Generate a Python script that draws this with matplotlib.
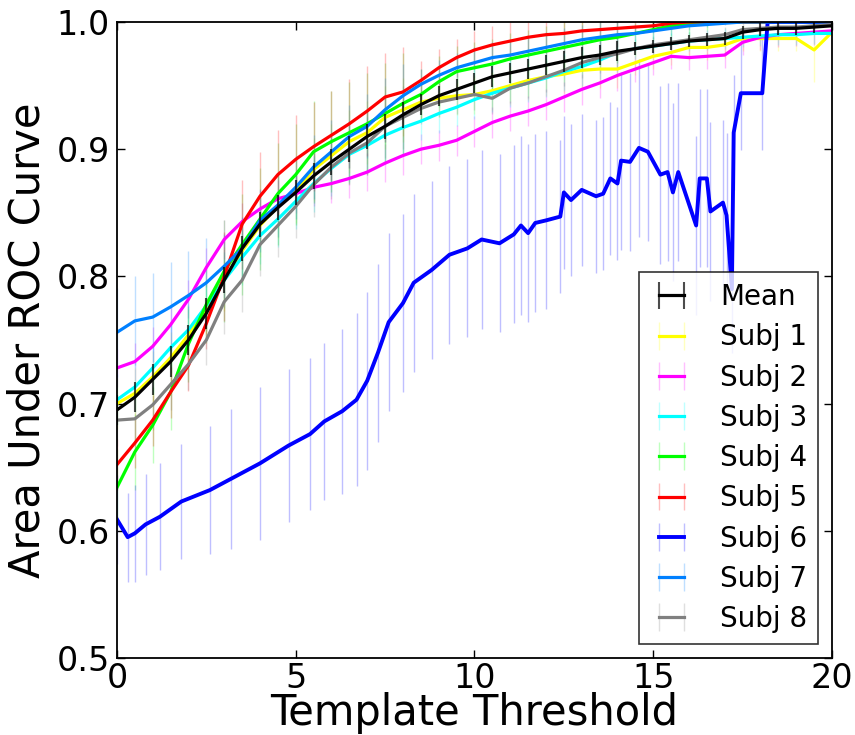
import matplotlib
matplotlib.use("Agg")
import matplotlib.pyplot as plt
from matplotlib.colors import to_rgba
import numpy as np

# threshold grid used for the mean and most subjects
thresh = np.linspace(0, 20, 41)

mean_auc = [0.695, 0.705, 0.719, 0.733, 0.750, 0.771, 0.797, 0.822, 0.841, 0.854,
            0.866, 0.879, 0.890, 0.900, 0.910, 0.918, 0.927, 0.935, 0.942, 0.947,
            0.952, 0.957, 0.960, 0.963, 0.966, 0.969, 0.972, 0.974, 0.977, 0.979,
            0.981, 0.983, 0.985, 0.986, 0.987, 0.992, 0.994, 0.995, 0.995, 0.996, 0.997]
mean_err = [0.012, 0.012, 0.012, 0.012, 0.012, 0.012, 0.010, 0.010, 0.010, 0.010,
            0.010, 0.010, 0.010, 0.010, 0.010, 0.010, 0.010, 0.008, 0.008, 0.008,
            0.008, 0.008, 0.008, 0.008, 0.008, 0.008, 0.008, 0.008, 0.008, 0.005,
            0.005, 0.005, 0.005, 0.005, 0.005, 0.005, 0.005, 0.005, 0.005, 0.005, 0.005]

subj1 = [0.700, 0.708, 0.721, 0.736, 0.754, 0.775, 0.798, 0.820, 0.840, 0.855,
         0.867, 0.884, 0.895, 0.906, 0.913, 0.925, 0.931, 0.937, 0.940, 0.942,
         0.943, 0.946, 0.950, 0.954, 0.957, 0.959, 0.962, 0.963, 0.963, 0.968,
         0.973, 0.976, 0.980, 0.980, 0.982, 0.987, 0.987, 0.987, 0.987, 0.978, 0.992]
subj1_err = [0.020, 0.020, 0.020, 0.020, 0.020, 0.020, 0.025, 0.025, 0.025, 0.025,
             0.025, 0.025, 0.025, 0.025, 0.025, 0.025, 0.025, 0.015, 0.015, 0.015,
             0.015, 0.015, 0.015, 0.015, 0.015, 0.015, 0.015, 0.015, 0.015, 0.010,
             0.010, 0.010, 0.010, 0.010, 0.010, 0.010, 0.010, 0.010, 0.010, 0.025, 0.010]

subj2 = [0.728, 0.733, 0.745, 0.762, 0.782, 0.807, 0.829, 0.843, 0.853, 0.861,
         0.865, 0.870, 0.873, 0.877, 0.882, 0.889, 0.895, 0.900, 0.903, 0.907,
         0.914, 0.921, 0.926, 0.930, 0.935, 0.941, 0.947, 0.952, 0.958, 0.963,
         0.968, 0.973, 0.972, 0.973, 0.974, 0.984, 0.988, 0.990, 0.991, 0.992, 0.993]
subj2_err = [0.015, 0.015, 0.015, 0.015, 0.015, 0.015, 0.015, 0.015, 0.015, 0.015,
             0.015, 0.015, 0.015, 0.015, 0.015, 0.015, 0.015, 0.012, 0.012, 0.012,
             0.012, 0.012, 0.012, 0.012, 0.012, 0.012, 0.012, 0.012, 0.012, 0.010,
             0.010, 0.010, 0.010, 0.010, 0.010, 0.010, 0.010, 0.010, 0.010, 0.010, 0.010]

subj3 = [0.703, 0.713, 0.728, 0.744, 0.758, 0.777, 0.797, 0.815, 0.832, 0.845,
         0.859, 0.873, 0.885, 0.896, 0.903, 0.911, 0.917, 0.922, 0.928, 0.933,
         0.939, 0.944, 0.948, 0.952, 0.956, 0.961, 0.965, 0.970, 0.976, 0.979,
         0.981, 0.983, 0.985, 0.986, 0.987, 0.988, 0.989, 0.990, 0.990, 0.991, 0.991]
subj3_err = [0.020, 0.020, 0.020, 0.020, 0.020, 0.020, 0.022, 0.022, 0.022, 0.022,
             0.022, 0.022, 0.022, 0.022, 0.022, 0.022, 0.022, 0.015, 0.015, 0.015,
             0.015, 0.015, 0.015, 0.015, 0.015, 0.015, 0.015, 0.015, 0.015, 0.008,
             0.008, 0.008, 0.008, 0.008, 0.008, 0.008, 0.008, 0.008, 0.008, 0.008, 0.008]

subj4 = [0.634, 0.662, 0.683, 0.709, 0.747, 0.778, 0.804, 0.825, 0.845, 0.865,
         0.880, 0.898, 0.906, 0.913, 0.920, 0.928, 0.936, 0.943, 0.953, 0.961,
         0.964, 0.967, 0.971, 0.974, 0.977, 0.980, 0.983, 0.986, 0.988, 0.991,
         0.994, 0.997, 0.998, 0.999, 1.000, 1.000, 1.000, 1.000, 1.000, 1.000, 1.000]
subj4_err = [0.030, 0.030, 0.030, 0.030, 0.030, 0.030, 0.040, 0.040, 0.040, 0.040,
             0.040, 0.040, 0.040, 0.040, 0.040, 0.040, 0.040, 0.020, 0.020, 0.020,
             0.020, 0.020, 0.020, 0.020, 0.020, 0.020, 0.020, 0.020, 0.020, 0.008,
             0.008, 0.008, 0.008, 0.005, 0.000, 0.000, 0.000, 0.000, 0.000, 0.000, 0.000]

subj5 = [0.652, 0.669, 0.687, 0.709, 0.730, 0.763, 0.800, 0.841, 0.863, 0.880,
         0.892, 0.902, 0.911, 0.920, 0.930, 0.941, 0.945, 0.954, 0.964, 0.972,
         0.978, 0.982, 0.985, 0.988, 0.990, 0.991, 0.993, 0.994, 0.995, 0.996,
         0.997, 0.999, 1.000, 1.000, 1.000, 1.000, 1.000, 1.000, 1.000, 1.000, 1.000]
subj5_err = [0.020, 0.020, 0.020, 0.020, 0.020, 0.020, 0.035, 0.035, 0.035, 0.035,
             0.035, 0.035, 0.035, 0.035, 0.035, 0.035, 0.035, 0.015, 0.015, 0.015,
             0.015, 0.015, 0.015, 0.015, 0.015, 0.015, 0.015, 0.015, 0.015, 0.005,
             0.005, 0.003, 0.000, 0.000, 0.000, 0.000, 0.000, 0.000, 0.000, 0.000, 0.000]

# subject 6 is jagged, so it has its own threshold points
subj6_x = [0.0, 0.3, 0.5, 0.8, 1.2, 1.8, 2.6, 3.2, 4.0, 4.8,
           5.4, 5.8, 6.3, 6.7, 7.0, 7.3, 7.6, 8.0, 8.3, 8.8,
           9.3, 9.8, 10.2, 10.7, 11.1, 11.3, 11.5, 11.7, 12.0, 12.4,
           12.5, 12.7, 13.0, 13.4, 13.6, 13.8, 14.0, 14.1, 14.35, 14.6,
           14.85, 15.2, 15.4, 15.55, 15.7, 16.2, 16.3, 16.5, 16.6, 16.95,
           17.05, 17.2, 17.25, 17.45, 18.05, 18.2, 19.0, 20.0]
subj6 = [0.609, 0.595, 0.598, 0.605, 0.611, 0.623, 0.632, 0.641, 0.653, 0.667,
         0.676, 0.686, 0.694, 0.703, 0.718, 0.740, 0.764, 0.779, 0.795, 0.805,
         0.817, 0.822, 0.829, 0.826, 0.833, 0.840, 0.834, 0.842, 0.844, 0.847,
         0.866, 0.860, 0.868, 0.863, 0.865, 0.877, 0.873, 0.891, 0.890, 0.901,
         0.898, 0.880, 0.882, 0.866, 0.882, 0.840, 0.877, 0.877, 0.851, 0.858,
         0.848, 0.790, 0.913, 0.944, 0.944, 1.000, 1.000, 1.000]
subj6_err = [0.035, 0.035, 0.038, 0.040, 0.042, 0.045, 0.050, 0.055, 0.060, 0.060,
             0.060, 0.062, 0.065, 0.068, 0.070, 0.070, 0.070, 0.070, 0.070, 0.070,
             0.070, 0.070, 0.070, 0.070, 0.070, 0.070, 0.070, 0.070, 0.070, 0.060,
             0.060, 0.060, 0.060, 0.060, 0.060, 0.060, 0.060, 0.070, 0.070, 0.070,
             0.070, 0.070, 0.070, 0.070, 0.070, 0.070, 0.070, 0.070, 0.070, 0.065,
             0.065, 0.050, 0.045, 0.045, 0.045, 0.000, 0.000, 0.000]

subj7 = [0.756, 0.765, 0.768, 0.776, 0.785, 0.795, 0.808, 0.822, 0.844, 0.856,
         0.870, 0.886, 0.898, 0.910, 0.918, 0.931, 0.942, 0.951, 0.958, 0.964,
         0.968, 0.972, 0.974, 0.977, 0.980, 0.983, 0.986, 0.988, 0.990, 0.991,
         0.993, 0.995, 0.997, 0.998, 0.999, 1.000, 1.000, 1.000, 1.000, 1.000, 1.000]
subj7_err = [0.035, 0.035, 0.035, 0.035, 0.035, 0.035, 0.025, 0.025, 0.025, 0.025,
             0.025, 0.025, 0.025, 0.025, 0.025, 0.025, 0.025, 0.012, 0.012, 0.012,
             0.012, 0.012, 0.012, 0.012, 0.012, 0.012, 0.012, 0.012, 0.012, 0.006,
             0.006, 0.005, 0.003, 0.002, 0.001, 0.000, 0.000, 0.000, 0.000, 0.000, 0.000]

subj8 = [0.687, 0.688, 0.699, 0.715, 0.731, 0.750, 0.780, 0.797, 0.825, 0.840,
         0.855, 0.872, 0.886, 0.897, 0.905, 0.918, 0.925, 0.932, 0.937, 0.940,
         0.943, 0.940, 0.948, 0.952, 0.957, 0.962, 0.968, 0.972, 0.975, 0.979,
         0.982, 0.984, 0.986, 0.988, 0.990, 0.994, 0.995, 0.996, 0.996, 0.997, 0.998]
subj8_err = [0.020, 0.020, 0.020, 0.020, 0.020, 0.020, 0.025, 0.025, 0.025, 0.025,
             0.025, 0.025, 0.025, 0.025, 0.025, 0.025, 0.025, 0.012, 0.012, 0.012,
             0.012, 0.012, 0.012, 0.012, 0.012, 0.012, 0.012, 0.012, 0.012, 0.006,
             0.006, 0.006, 0.006, 0.006, 0.006, 0.006, 0.006, 0.006, 0.006, 0.006, 0.006]

subjects = [
    ("Subj 1", thresh, subj1, subj1_err, "#ffff00"),
    ("Subj 2", thresh, subj2, subj2_err, "#ff00ff"),
    ("Subj 3", thresh, subj3, subj3_err, "#00ffff"),
    ("Subj 4", thresh, subj4, subj4_err, "#00ff00"),
    ("Subj 5", thresh, subj5, subj5_err, "#ff0000"),
    ("Subj 6", subj6_x, subj6, subj6_err, "#0000ff"),
    ("Subj 7", thresh, subj7, subj7_err, "#0080ff"),
    ("Subj 8", thresh, subj8, subj8_err, "#808080"),
]

plt.rcParams.update({'font.family': 'DejaVu Sans'})
fig = plt.figure(figsize=(8.55, 7.35), dpi=100)
ax = fig.add_axes([0.1368, 0.1048, 0.8363, 0.8653])

handles = {}
for name, xs, ys, errs, col in subjects:
    lw = 2.8 if name == "Subj 6" else 2.3
    h = ax.errorbar(xs, ys, yerr=errs, color=col, linewidth=lw,
                    ecolor=to_rgba(col, 0.25), elinewidth=1.0, capsize=0,
                    label=name, zorder=2)
    handles[name] = h

hm = ax.errorbar(thresh, mean_auc, yerr=mean_err, color='black', linewidth=2.3,
                 ecolor=to_rgba('black', 0.7), elinewidth=1.5, capsize=0,
                 label='Mean', zorder=3)

order = [hm] + [handles[s[0]] for s in subjects]
leg = ax.legend(handles=order, labels=[h.get_label() for h in order],
                loc='lower right', numpoints=2, fontsize=20, fancybox=False,
                handlelength=1.5, handletextpad=1.0, labelspacing=0.44,
                borderaxespad=0.5)
leg.get_frame().set_edgecolor('black')
leg.get_frame().set_linewidth(1.2)

ax.set_xlim(0, 20)
ax.set_ylim(0.5, 1.0)
ax.set_xticks([0, 5, 10, 15, 20])
ax.set_yticks([0.5, 0.6, 0.7, 0.8, 0.9, 1.0])
ax.tick_params(axis='both', direction='in', length=6, width=1, labelsize=24,
               top=True, right=True)
ax.tick_params(axis='x', pad=3)
ax.tick_params(axis='y', pad=5)
for sp in ax.spines.values():
    sp.set_linewidth(1.3)

ax.set_xlabel("Template Threshold", fontsize=30, labelpad=-2)
ax.set_ylabel("Area Under ROC Curve", fontsize=30, labelpad=6)

fig.savefig("out.png", dpi=100)
